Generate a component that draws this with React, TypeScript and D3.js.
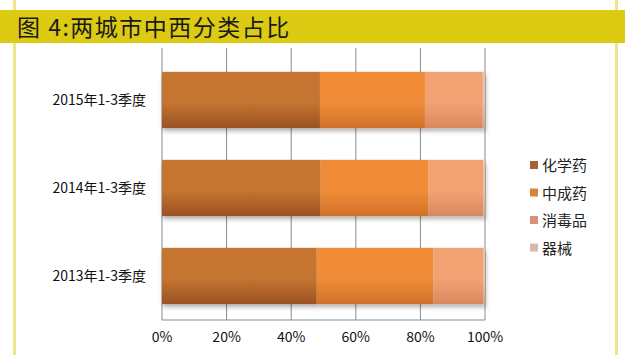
import React from "react";
import * as d3 from "d3";

const categories = ["2015年1-3季度", "2014年1-3季度", "2013年1-3季度"];
const seriesNames = ["化学药", "中成药", "消毒品", "器械"];
const chemical = [48.9, 49.1, 47.9];
const patent = [32.5, 33.3, 36.1];
const disinfect = [17.9, 17.1, 15.4];
const device = [0.7, 0.5, 0.6];
const xTicks = [0, 20, 40, 60, 80, 100];
const colors = [
  ["#c47430", "#9a5224"],
  ["#f08c38", "#d07028"],
  ["#f2a272", "#d8885e"],
  ["#ecc0a8", "#d4a48c"],
];
const legendColors = ["#a8603a", "#d9823a", "#d98f78", "#d8b8a8"];

export default function App() {
  const W = 625, H = 355;
  const left = 162, right = 485, top = 56, bottom = 320;
  const x = d3.scaleLinear().domain([0, 100]).range([left, right]);
  const y = d3.scaleBand().domain(categories).range([top, bottom]).paddingInner(0.36).paddingOuter(0.18);
  const series = [chemical, patent, disinfect, device];
  const rows = categories.map((c, i) => {
    const obj: any = { cat: c };
    seriesNames.forEach((s, j) => (obj[s] = series[j][i]));
    return obj;
  });
  const stacked = d3.stack().keys(seriesNames)(rows);
  const font = "'Noto Sans CJK SC', 'Noto Sans', sans-serif";
  const serif = "'Liberation Serif', 'Noto Sans CJK SC', serif";
  return (
    <svg width={W} height={H} style={{ position: "absolute", left: 0, top: 0, background: "#fff" }}>
      <defs>
        {colors.map((c, i) => (
          <linearGradient key={i} id={`g${i}`} x1="0" y1="0" x2="0" y2="1">
            <stop offset="0" stopColor={c[0]} />
            <stop offset="0.55" stopColor={c[0]} />
            <stop offset="1" stopColor={c[1]} />
          </linearGradient>
        ))}
        <filter id="sh" x="-5%" y="-20%" width="110%" height="150%">
          <feDropShadow dx="1" dy="3" stdDeviation="2" floodColor="#000" floodOpacity="0.3" />
        </filter>
      </defs>
      <rect x={0} y={0} width={W} height={H} fill="#fff" />
      <rect x={13} y={0} width={3} height={H} fill="#eee58a" />
      <rect x={615} y={0} width={3} height={H} fill="#eee58a" />
      <rect x={0} y={10} width={W} height={33} fill="#dccb12" />
      <text x={17} y={36} fontSize={23} letterSpacing={1.5} fill="#1a1a1a" fontFamily={font}>图 4:两城市中西分类占比</text>
      {xTicks.map((t) => (
        <line key={t} x1={x(t)} x2={x(t)} y1={top - 8} y2={bottom} stroke="#8a8a8a" strokeWidth={1} />
      ))}
      <line x1={left} x2={right} y1={bottom} y2={bottom} stroke="#8a8a8a" />
      {categories.map((c) => (
        <g key={c} filter="url(#sh)">
          {stacked.map((s, j) => {
            const d = s.find((v: any) => v.data.cat === c)!;
            return (
              <rect key={j} x={x(d[0])} y={y(c)!} width={x(d[1]) - x(d[0])} height={y.bandwidth()} fill={`url(#g${j})`} />
            );
          })}
        </g>
      ))}
      {categories.map((c) => (
        <text key={c} x={146} y={y(c)! + y.bandwidth() / 2 + 5} textAnchor="end" fontSize={14} fill="#111" fontFamily={font}>{c}</text>
      ))}
      {xTicks.map((t) => (
        <text key={t} x={x(t)} y={342} textAnchor="middle" fontSize={14} fill="#111" fontFamily={font}>{t}%</text>
      ))}
      {seriesNames.map((s, i) => (
        <g key={s}>
          <rect x={530} y={161 + i * 27.5} width={8} height={8} fill={legendColors[i]} />
          <text x={542} y={171 + i * 27.5} fontSize={15} fill="#222" fontFamily={serif}>{s}</text>
        </g>
      ))}
    </svg>
  );
}
